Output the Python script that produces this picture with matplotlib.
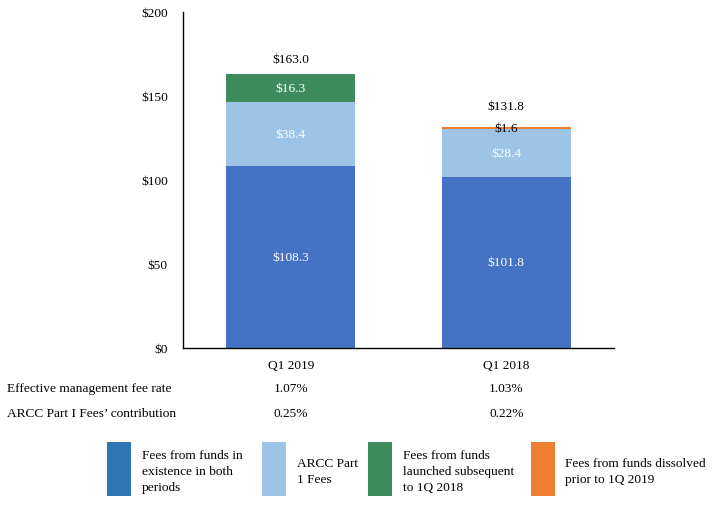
import numpy as np
import matplotlib
matplotlib.use("Agg")
import matplotlib.pyplot as plt
from matplotlib.patches import Rectangle
import matplotlib.transforms as mtransforms

plt.rcParams['font.family'] = ['Liberation Serif', 'DejaVu Serif']

# data
quarters = ['Q1 2019', 'Q1 2018']
existing_fees = [108.3, 101.8]
arcc_fees = [38.4, 28.4]
launched_fees = [16.3, 0.0]
dissolved_fees = [0.0, 1.6]
fee_rate = ['1.07%', '1.03%']
arcc_contribution = ['0.25%', '0.22%']
row_labels = ['Effective management fee rate', "ARCC Part I Fees\u2019 contribution"]
y_ticks = [0, 50, 100, 150, 200]
legend_labels = ['Fees from funds in\nexistence in both\nperiods',
                 'ARCC Part\n1 Fees',
                 'Fees from funds\nlaunched subsequent\nto 1Q 2018',
                 'Fees from funds dissolved\nprior to 1Q 2019']

bar_colors = ['#4472C4', '#9DC3E6', '#3E8C5C', '#ED7D31']
legend_colors = ['#2E75B6', '#9DC3E6', '#3E8C5C', '#ED7D31']
fs = 9.6

W, H = 713, 506
fig = plt.figure(figsize=(W / 100, H / 100), dpi=100)
ax = fig.add_axes([183 / W, 1 - 349 / H, (614 - 183) / W, (349 - 13) / H])

x = np.arange(len(quarters))
series = [existing_fees, arcc_fees, launched_fees, dissolved_fees]
bottom = np.zeros(len(quarters))
for vals, col in zip(series, bar_colors):
    vals = np.array(vals)
    ax.bar(x, vals, 0.6, bottom=bottom, color=col, linewidth=0)
    for i, v in enumerate(vals):
        if v <= 0:
            continue
        txt_color = 'white' if v > 5 else 'black'
        ax.text(x[i], bottom[i] + v / 2, '$%.1f' % v, ha='center', va='center',
                color=txt_color, fontsize=fs)
    bottom += vals

totals = bottom
for i, t in enumerate(totals):
    extra = 3 if series[-1][i] > 0 else 0
    ax.text(x[i], t + 9 + extra, '$%.1f' % t, ha='center', va='center', fontsize=fs)

ax.set_xlim(-0.5, 1.5)
ax.set_ylim(0, 200)
ax.set_yticks(y_ticks)
ax.set_yticklabels(['$%d' % v for v in y_ticks])
ax.set_xticks(x)
ax.set_xticklabels(quarters)
ax.tick_params(axis='both', length=0, labelsize=fs)
ax.tick_params(axis='y', pad=11)
ax.tick_params(axis='x', pad=8)
for s in ['top', 'right']:
    ax.spines[s].set_visible(False)
ax.spines['left'].set_linewidth(1.0)
ax.spines['bottom'].set_linewidth(1.0)

# table rows under the chart
trans = mtransforms.blended_transform_factory(ax.transData, fig.transFigure)
for row_y, label, vals in [(389, row_labels[0], fee_rate), (414, row_labels[1], arcc_contribution)]:
    fig.text(7 / W, 1 - row_y / H, label, ha='left', va='center', fontsize=fs)
    for i, v in enumerate(vals):
        ax.text(x[i], 1 - row_y / H, v, transform=trans, ha='center', va='center', fontsize=fs)

# legend
patch_x = [107, 262, 368, 531]
text_x = [142, 297, 403, 565]
for px, tx, col, lab in zip(patch_x, text_x, legend_colors, legend_labels):
    fig.add_artist(Rectangle((px / W, 1 - 497 / H), 24 / W, 54 / H,
                             transform=fig.transFigure, color=col, linewidth=0))
    fig.text(tx / W, 1 - 472 / H, lab, ha='left', va='center', fontsize=fs, linespacing=1.48)

fig.savefig('out.png', dpi=100)
